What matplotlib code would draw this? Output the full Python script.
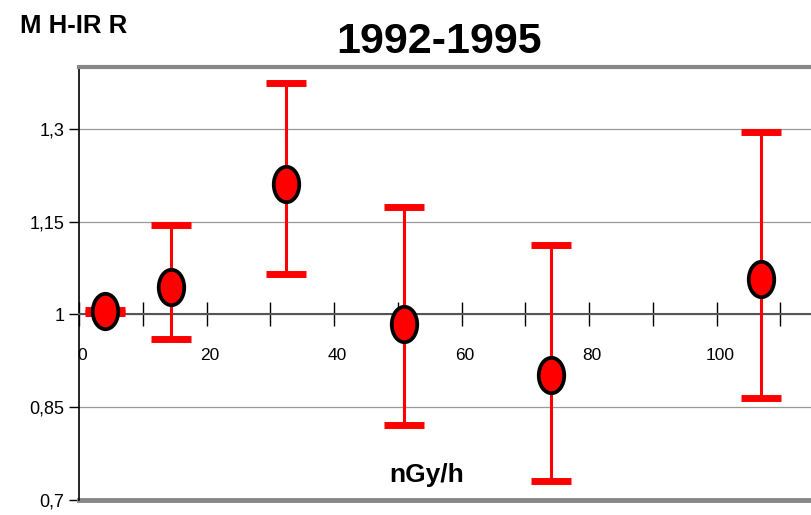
import numpy as np
import matplotlib.pyplot as plt
from matplotlib.path import Path
from matplotlib.transforms import Affine2D, ScaledTranslation
from matplotlib.ticker import MultipleLocator, FixedLocator, FuncFormatter

# dose rate (nGy/h) vs MH-IRR, 1992-1995
dose = [4, 14.5, 32.5, 51, 74, 107]
irr = [1.005, 1.045, 1.211, 0.985, 0.902, 1.058]
irr_low = [1.003, 0.961, 1.065, 0.821, 0.731, 0.865]
irr_high = [1.007, 1.145, 1.374, 1.173, 1.113, 1.295]

y_ticks = [0.7, 0.85, 1.0, 1.15, 1.3]

fam = ['Liberation Sans', 'DejaVu Sans']
plt.rcParams['font.family'] = fam

fig = plt.figure(figsize=(8.11, 5.15), dpi=100)
ax = fig.add_axes([79/811, 1 - 500/515, 1 - 79/811, (500 - 67)/515])

irr = np.array(irr)
err = [irr - np.array(irr_low), np.array(irr_high) - irr]

# tall ellipse marker
oval = Path.unit_circle().transformed(Affine2D().scale(0.72, 1.0))

ax.errorbar(dose, irr, yerr=err, fmt='none', ecolor='red', elinewidth=2.2,
            capsize=14.5, capthick=5, zorder=3)
ax.plot(dose, irr, linestyle='none', marker=oval, markersize=25.5,
        markerfacecolor='red', markeredgecolor='black', markeredgewidth=2.7,
        zorder=4)

ax.set_xlim(0, 114.8)
ax.set_ylim(0.7, 1.4)

ax.yaxis.set_major_locator(FixedLocator(y_ticks))
ax.yaxis.set_major_formatter(FuncFormatter(lambda v, p: ('%g' % round(v, 2)).replace('.', ',')))
ax.xaxis.set_major_locator(MultipleLocator(20))
ax.xaxis.set_minor_locator(MultipleLocator(10))

ax.grid(axis='y', color='#999999', linewidth=0.9)
ax.set_axisbelow(True)

ax.spines['bottom'].set_position(('data', 1.0))
ax.spines['bottom'].set_color('#555555')
ax.spines['bottom'].set_linewidth(1.5)
ax.spines['top'].set_color('#888888')
ax.spines['top'].set_linewidth(3)
ax.spines['right'].set_visible(False)
ax.spines['left'].set_linewidth(1.2)
ax.axhline(0.7, color='#888888', linewidth=3.5, clip_on=False, zorder=1)

ax.tick_params(axis='x', which='both', direction='inout', length=17, width=1,
               labelsize=12.5, pad=16)
ax.tick_params(axis='y', direction='out', length=7, width=1, labelsize=13)

# x labels sit a bit right of their ticks in the original
shift = ScaledTranslation(3/100, 0, fig.dpi_scale_trans)
for lab in ax.get_xticklabels():
    lab.set_transform(lab.get_transform() + shift)

ax.text(0.475, 0.058, 'nGy/h', transform=ax.transAxes, ha='center', va='center',
        fontsize=19, fontweight='bold')

fig.text(0.542, 1 - 42/515, '1992-1995', ha='center', va='center',
         fontsize=31, fontweight='bold')
fig.text(20/811, 1 - 26/515, 'M H-IR R', ha='left', va='center',
         fontsize=18.5, fontweight='bold')

fig.savefig('out.png', dpi=100)
